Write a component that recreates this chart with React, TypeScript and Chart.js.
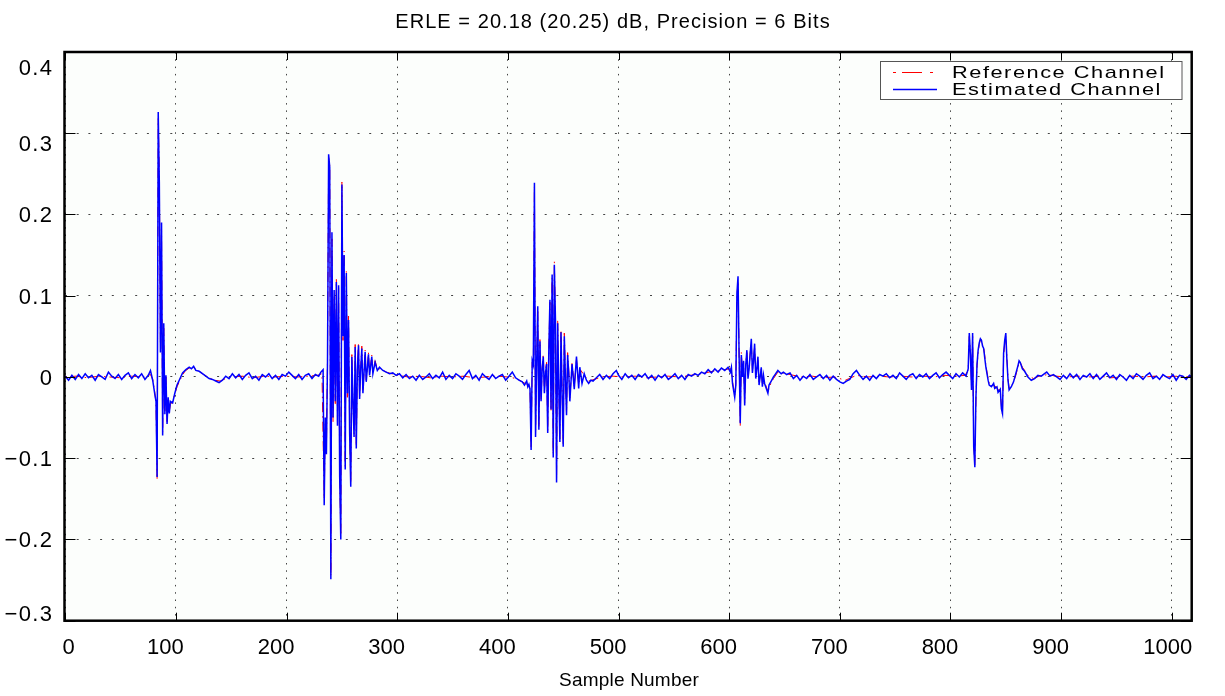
import React, { useEffect, useRef } from "react";
import { Chart, registerables } from "chart.js";
Chart.register(...registerables);

const titleText = "ERLE = 20.18 (20.25) dB, Precision = 6 Bits";
const xAxisTitle = "Sample Number";
const legendLabels = ["Reference Channel", "Estimated Channel"];
const xTickValues = [0, 100, 200, 300, 400, 500, 600, 700, 800, 900, 1000];
const xTickLabels = ["0", "100", "200", "300", "400", "500", "600", "700", "800", "900", "1000"];
const yTickValues = [-0.3, -0.2, -0.1, 0, 0.1, 0.2, 0.3, 0.4];
const yTickLabels = ["\u22120.3", "\u22120.2", "\u22120.1", "0", "0.1", "0.2", "0.3", "0.4"];

const referenceChannel: [number, number][] = [
  [0, 0.0], [10, 0.001], [20, -0.001], [30, 0.001], [40, 0.0], [50, -0.001], [60, 0.001], [70, 0.0], [77, 0.003],
  [79, -0.003], [81, -0.02], [82, -0.032], [83, -0.126], [84, 0.318], [85, 0.252], [86, 0.04], [87, 0.18], [88, -0.068],
  [89, 0.06], [90, -0.042], [91, 0.0], [92, -0.055], [93, -0.03], [94, -0.042], [95, -0.034], [97, -0.03], [99, -0.021],
  [101, -0.012], [104, -0.003], [108, 0.007], [112, 0.011], [116, 0.012], [120, 0.008], [125, 0.003], [130, -0.001],
  [135, -0.004], [140, -0.005], [145, -0.002], [150, 0.0], [160, 0.001], [170, -0.001], [180, 0.001], [190, 0.0],
  [200, 0.001], [210, 0.0], [220, 0.001], [228, 0.002], [232, 0.004],
  [234, -0.15], [235, -0.055], [236, -0.09], [237, 0.025], [238, 0.27], [239, 0.26], [240, -0.245], [241, 0.17],
  [242, -0.055], [243, 0.1], [244, -0.035], [245, 0.12], [246, -0.055], [247, 0.11], [248, -0.12], [249, -0.195],
  [250, 0.24], [251, 0.045], [252, 0.155], [253, -0.11], [254, 0.13], [255, -0.025], [256, 0.075], [257, -0.065],
  [258, -0.13], [259, 0.03], [260, -0.035], [261, -0.07], [262, 0.04], [263, -0.085], [264, 0.012], [265, 0.042],
  [266, -0.025], [267, 0.012], [268, 0.038], [269, -0.018], [270, 0.007], [271, 0.033], [272, -0.004], [274, 0.03],
  [275, 0.004], [277, 0.027], [278, 0.006], [280, 0.02], [282, 0.01], [285, 0.01], [290, 0.006], [295, 0.004],
  [300, 0.002], [310, 0.0], [320, 0.001], [330, -0.001], [340, 0.001], [350, 0.0], [360, 0.001], [370, -0.001],
  [380, 0.0], [390, 0.001], [400, 0.0], [408, -0.002], [413, -0.006], [417, -0.009], [420, -0.014],
  [421, -0.088], [422, 0.018], [423, 0.012], [424, 0.235], [425, -0.07], [426, 0.018], [427, 0.083], [428, -0.062],
  [429, 0.046], [430, -0.028], [431, 0.012], [432, 0.028], [433, -0.018], [434, 0.008], [435, 0.018], [436, -0.066],
  [437, 0.035], [438, 0.092], [439, -0.042], [440, 0.122], [441, -0.095], [442, 0.142], [443, 0.066], [444, -0.125],
  [445, 0.07], [446, -0.012], [447, -0.076], [448, 0.058], [449, -0.018], [450, -0.082], [451, 0.054], [452, 0.004],
  [453, -0.044], [454, 0.03], [455, 0.008], [456, -0.027], [458, 0.018], [460, -0.012], [462, 0.022], [464, -0.01],
  [466, 0.008], [469, 0.002], [473, -0.005], [478, -0.003], [485, 0.0], [495, 0.001], [505, 0.0], [515, 0.001],
  [525, -0.001], [535, 0.0], [545, 0.001], [555, 0.0], [565, 0.002], [575, 0.004], [585, 0.007], [595, 0.009],
  [601, 0.01], [602, 0.01], [603, -0.006], [605, -0.022], [606, -0.008], [607, 0.098], [608, 0.118], [609, 0.026],
  [610, -0.06], [611, 0.03], [612, 0.004], [613, 0.018], [614, -0.032], [615, 0.018], [616, 0.03], [617, 0.002],
  [618, 0.012], [619, 0.03], [620, 0.042], [621, 0.008], [622, 0.022], [623, 0.038], [624, 0.002], [625, 0.012],
  [626, 0.022], [627, -0.006], [628, 0.002], [629, 0.01], [630, -0.01], [632, -0.006], [634, -0.014], [635, -0.018],
  [637, -0.01], [640, -0.002], [644, 0.006], [648, 0.005], [655, 0.003], [665, 0.0], [675, 0.001], [685, -0.001],
  [695, 0.0], [705, -0.004], [715, 0.002], [725, 0.0], [735, 0.001], [745, 0.0], [755, 0.001], [765, 0.0],
  [775, 0.001], [785, 0.0], [795, 0.002], [805, 0.001], [813, 0.002],
  [816, 0.008], [817, 0.05], [818, 0.032], [819, -0.012], [820, 0.05], [821, -0.082], [822, -0.108], [823, -0.028],
  [824, 0.014], [825, 0.03], [826, 0.04], [827, 0.046], [828, 0.046], [829, 0.04], [830, 0.036], [831, 0.026],
  [832, 0.014], [833, 0.006], [834, -0.002], [835, -0.008], [837, -0.011], [839, -0.01], [841, -0.012], [843, -0.016],
  [845, -0.016], [846, -0.036], [847, -0.046], [848, 0.024], [849, 0.042], [850, 0.05], [851, 0.024], [852, -0.002],
  [853, -0.014], [855, -0.012], [857, -0.006], [859, 0.002], [861, 0.012], [862, 0.018], [863, 0.018], [865, 0.012],
  [867, 0.008], [870, 0.002], [875, -0.002], [880, 0.001], [888, 0.003], [895, 0.001], [905, 0.0], [915, 0.001],
  [925, 0.0], [935, 0.001], [945, -0.001], [955, 0.0], [965, 0.001], [975, 0.0], [985, 0.001], [995, 0.0],
  [1005, 0.001], [1018, 0.0],
];

const estimatedChannel: [number, number][] = [
  [0, 0.001], [3, -0.004], [6, 0.002], [9, -0.003], [12, 0.003], [15, -0.002], [18, 0.004], [21, -0.001], [24, 0.002],
  [27, -0.004], [30, 0.003], [33, 0.0], [36, -0.003], [39, 0.006], [42, 0.001], [45, -0.002], [48, 0.003], [51, -0.003],
  [54, 0.002], [57, 0.005], [60, -0.002], [63, 0.003], [66, -0.001], [69, 0.004], [72, -0.003], [75, 0.002], [77, 0.008],
  [79, -0.004], [81, -0.022], [82, -0.03], [83, -0.123], [84, 0.326], [85, 0.24], [86, 0.03], [87, 0.19], [88, -0.072],
  [89, 0.066], [90, -0.046], [91, 0.002], [92, -0.058], [93, -0.025], [94, -0.045], [95, -0.03], [97, -0.032],
  [99, -0.02], [101, -0.01], [103, -0.004], [106, 0.005], [109, 0.009], [112, 0.012], [114, 0.01], [116, 0.013],
  [118, 0.008], [121, 0.007], [124, 0.004], [127, 0.001], [130, -0.002], [133, -0.003], [136, -0.005], [139, -0.007],
  [142, -0.004], [145, 0.001], [148, -0.002], [151, 0.004], [154, -0.001], [157, 0.003], [160, -0.003], [163, 0.002],
  [166, 0.005], [169, -0.002], [172, 0.001], [175, -0.004], [178, 0.003], [181, 0.0], [184, 0.004], [187, -0.002],
  [190, 0.002], [193, -0.003], [196, 0.003], [199, 0.001], [202, 0.006], [205, 0.002], [208, -0.002], [211, 0.003],
  [214, -0.003], [217, 0.002], [220, 0.004], [223, -0.002], [226, 0.003], [229, 0.001], [231, 0.006], [233, 0.009],
  [234, -0.158], [235, -0.05], [236, -0.095], [237, 0.02], [238, 0.274], [239, 0.258], [240, -0.249], [241, 0.178],
  [242, -0.05], [243, 0.107], [244, -0.03], [245, 0.117], [246, -0.06], [247, 0.113], [248, -0.123], [249, -0.2],
  [250, 0.237], [251, 0.05], [252, 0.15], [253, -0.114], [254, 0.128], [255, -0.02], [256, 0.07], [257, -0.07],
  [258, -0.135], [259, 0.025], [260, -0.03], [261, -0.074], [262, 0.037], [263, -0.088], [264, 0.01], [265, 0.039],
  [266, -0.027], [267, 0.01], [268, 0.035], [269, -0.02], [270, 0.005], [271, 0.031], [272, -0.006], [274, 0.028],
  [275, 0.002], [277, 0.025], [278, 0.004], [280, 0.018], [282, 0.008], [284, 0.012], [287, 0.008], [290, 0.006],
  [293, 0.004], [296, 0.005], [299, 0.002], [302, 0.004], [305, -0.001], [308, 0.003], [311, -0.002], [314, 0.001],
  [317, -0.004], [320, 0.002], [323, -0.003], [326, 0.0], [329, 0.004], [332, -0.002], [335, 0.002], [338, -0.001],
  [341, 0.006], [344, -0.003], [347, 0.002], [350, -0.002], [353, 0.004], [356, 0.001], [359, -0.003], [362, 0.003],
  [365, 0.008], [368, -0.002], [371, 0.002], [374, -0.004], [377, 0.004], [380, 0.0], [383, -0.003], [386, 0.003],
  [389, -0.002], [392, 0.001], [395, 0.003], [398, -0.004], [401, 0.001], [404, 0.006], [407, -0.001], [410, -0.004],
  [413, -0.006], [415, -0.01], [417, -0.005], [418, -0.012], [419, -0.009], [420, -0.015],
  [421, -0.09], [422, 0.02], [423, 0.015], [424, 0.239], [425, -0.074], [426, 0.016], [427, 0.087], [428, -0.065],
  [429, 0.044], [430, -0.03], [431, 0.01], [432, 0.025], [433, -0.02], [434, 0.005], [435, 0.016], [436, -0.069],
  [437, 0.033], [438, 0.095], [439, -0.04], [440, 0.126], [441, -0.099], [442, 0.138], [443, 0.07], [444, -0.13],
  [445, 0.066], [446, -0.01], [447, -0.08], [448, 0.055], [449, -0.02], [450, -0.086], [451, 0.05], [452, 0.0],
  [453, -0.047], [454, 0.027], [455, 0.005], [456, -0.03], [458, 0.016], [460, -0.015], [462, 0.025], [464, -0.014],
  [465, 0.012], [467, -0.008], [469, 0.004], [471, -0.004], [473, -0.008], [475, -0.004], [477, -0.005],
  [480, -0.001], [483, 0.003], [486, -0.003], [489, 0.002], [492, -0.002], [495, 0.004], [498, 0.008], [500, 0.002],
  [503, -0.003], [506, 0.004], [509, -0.001], [512, 0.002], [515, -0.003], [518, 0.003], [521, 0.0], [524, 0.004],
  [527, -0.002], [530, 0.002], [533, -0.004], [536, 0.002], [539, -0.001], [542, 0.003], [545, -0.003], [548, 0.0],
  [551, 0.004], [554, -0.002], [557, 0.002], [560, -0.003], [563, 0.003], [566, 0.001], [569, 0.004], [572, 0.002],
  [575, 0.006], [578, 0.004], [581, 0.009], [584, 0.005], [587, 0.01], [590, 0.006], [593, 0.011], [596, 0.008],
  [599, 0.012], [601, 0.006], [602, 0.012], [603, -0.008], [605, -0.025], [606, -0.01], [607, 0.103], [608, 0.124],
  [609, 0.023], [610, -0.057], [611, 0.027], [612, 0.0], [613, 0.02], [614, -0.035], [615, 0.015], [616, 0.033],
  [617, -0.002], [618, 0.01], [619, 0.029], [620, 0.047], [621, 0.005], [622, 0.02], [623, 0.041], [624, -0.002],
  [625, 0.01], [626, 0.025], [627, -0.01], [628, 0.0], [629, 0.012], [630, -0.012], [631, 0.002], [632, -0.008],
  [634, -0.016], [635, -0.02], [636, -0.01], [638, -0.005], [640, 0.0], [641, 0.002], [644, 0.008], [647, 0.004],
  [649, 0.006], [652, 0.003], [655, 0.005], [658, -0.002], [661, 0.002], [664, -0.004], [667, 0.001], [670, -0.002],
  [673, 0.003], [676, -0.003], [679, 0.0], [682, 0.003], [685, -0.002], [688, 0.002], [691, -0.004], [694, 0.001],
  [697, -0.003], [700, -0.006], [703, -0.008], [706, -0.005], [709, -0.003], [712, 0.004], [715, 0.008], [718, 0.002],
  [721, -0.003], [724, 0.001], [727, -0.004], [730, 0.002], [733, -0.002], [736, 0.003], [739, 0.001], [742, 0.004],
  [745, -0.001], [748, 0.002], [751, -0.002], [754, 0.005], [757, 0.001], [760, -0.003], [763, 0.002], [766, 0.004],
  [769, -0.002], [772, 0.003], [775, 0.0], [778, 0.004], [781, -0.002], [784, 0.002], [787, 0.005], [790, -0.001],
  [793, 0.003], [796, 0.006], [799, 0.002], [802, -0.002], [805, 0.004], [808, 0.0], [811, 0.005], [814, 0.001],
  [816, 0.01], [817, 0.054], [818, 0.029], [819, -0.016], [820, 0.054], [821, -0.086], [822, -0.111], [823, -0.025],
  [824, 0.016], [825, 0.033], [826, 0.042], [827, 0.047], [828, 0.045], [829, 0.038], [830, 0.035], [831, 0.023],
  [832, 0.012], [833, 0.004], [834, -0.004], [835, -0.01], [837, -0.012], [839, -0.008], [840, -0.014], [842, -0.012],
  [843, -0.019], [845, -0.015], [846, -0.039], [847, -0.045], [848, 0.029], [849, 0.045], [850, 0.054], [851, 0.021],
  [852, -0.004], [853, -0.016], [855, -0.012], [857, -0.006], [859, 0.004], [861, 0.014], [862, 0.02], [863, 0.018],
  [865, 0.01], [867, 0.007], [870, 0.0], [873, -0.004], [876, -0.002], [879, 0.002], [882, 0.001], [885, 0.004],
  [887, 0.006], [890, 0.001], [893, 0.003], [896, 0.0], [899, -0.003], [902, 0.002], [905, -0.002], [908, 0.004],
  [911, -0.001], [914, 0.003], [917, -0.003], [920, 0.002], [923, 0.0], [926, 0.004], [929, -0.002], [932, 0.003],
  [935, -0.003], [938, 0.001], [941, 0.005], [944, -0.001], [947, 0.002], [950, -0.003], [953, 0.003], [956, 0.0],
  [959, -0.004], [962, 0.002], [965, -0.002], [968, 0.004], [971, 0.001], [974, -0.003], [977, 0.002], [980, 0.005],
  [983, -0.002], [986, 0.001], [989, -0.003], [992, 0.003], [995, 0.0], [998, -0.002], [1001, 0.003], [1004, -0.004],
  [1007, 0.002], [1010, 0.001], [1013, -0.003], [1016, 0.002], [1018, 0.0],
];

const FONT = '"Liberation Sans", Arial, Helvetica, sans-serif';

function drawText(ctx: CanvasRenderingContext2D, text: string, x: number, y: number, font: string, align: CanvasTextAlign, spacing: number, sx = 1) {
  ctx.save();
  ctx.translate(x, y);
  ctx.scale(sx, 1);
  ctx.font = font;
  (ctx as any).letterSpacing = spacing + "px";
  ctx.textAlign = align;
  ctx.textBaseline = "alphabetic";
  ctx.fillStyle = "#000";
  ctx.fillText(text, 0, 0);
  ctx.restore();
}

const decorPlugin = {
  id: "decor",
  beforeDraw(chart: any) {
    const { ctx, chartArea: a } = chart;
    ctx.save();
    ctx.fillStyle = "#ffffff";
    ctx.fillRect(0, 0, chart.width, chart.height);
    ctx.fillStyle = "#fcfefc";
    ctx.fillRect(a.left, a.top, a.right - a.left, a.bottom - a.top);
    ctx.restore();
  },
  afterDraw(chart: any) {
    const { ctx, chartArea: a, scales } = chart;
    const xs = scales.x;
    const ys = scales.y;
    ctx.save();
    ctx.strokeStyle = "#000";
    ctx.lineWidth = 1;
    ctx.beginPath();
    xTickValues.forEach((v) => {
      const p = Math.round(xs.getPixelForValue(v)) + 0.5;
      ctx.moveTo(p, a.bottom);
      ctx.lineTo(p, a.bottom - 8);
      ctx.moveTo(p, a.top);
      ctx.lineTo(p, a.top + 8);
    });
    yTickValues.forEach((v) => {
      const p = Math.round(ys.getPixelForValue(v)) + 0.5;
      ctx.moveTo(a.left, p);
      ctx.lineTo(a.left + 11, p);
      ctx.moveTo(a.right, p);
      ctx.lineTo(a.right - 11, p);
    });
    ctx.stroke();
    ctx.lineWidth = 2.5;
    ctx.strokeRect(a.left, a.top, a.right - a.left, a.bottom - a.top);
    ctx.restore();

    const yShift: Record<string, number> = { "0.4": 15, "0.3": 10, "\u22120.3": -8 };
    yTickValues.forEach((v, i) => {
      const lab = yTickLabels[i];
      const cy = ys.getPixelForValue(v) + (yShift[lab] || 0);
      drawText(ctx, lab, 53.5, cy + 7.8, "22px " + FONT, "right", 1.4);
    });
    xTickValues.forEach((v, i) => {
      const lab = xTickLabels[i];
      const px = xs.getPixelForValue(v);
      const shift = lab === "0" ? 3.4 : lab === "1000" ? -4 : -10.5;
      drawText(ctx, lab, px + shift, 653.5, "22px " + FONT, "center", 0);
    });
    drawText(ctx, titleText, 613, 27.7, "20px " + FONT, "center", 1.05);
    drawText(ctx, xAxisTitle, 629, 686, "19px " + FONT, "center", 0.2);

    ctx.save();
    ctx.fillStyle = "#ffffff";
    ctx.fillRect(880.5, 61.5, 301.5, 38);
    ctx.strokeStyle = "#555";
    ctx.lineWidth = 1;
    ctx.strokeRect(880.5, 61.5, 301.5, 38);
    ctx.strokeStyle = "#ff0000";
    ctx.lineWidth = 1.2;
    ctx.beginPath();
    ctx.moveTo(893, 72.5); ctx.lineTo(896, 72.5);
    ctx.moveTo(902, 72.5); ctx.lineTo(922, 72.5);
    ctx.moveTo(930, 72.5); ctx.lineTo(933, 72.5);
    ctx.stroke();
    ctx.strokeStyle = "#0000ff";
    ctx.lineWidth = 1.5;
    ctx.beginPath();
    ctx.moveTo(893, 89.5); ctx.lineTo(937, 89.5);
    ctx.stroke();
    ctx.restore();
    drawText(ctx, legendLabels[0], 952, 78, "17px " + FONT, "left", 1.2, 1.28);
    drawText(ctx, legendLabels[1], 952, 95, "17px " + FONT, "left", 1.2, 1.28);
  },
};

export default function App() {
  const ref = useRef<HTMLCanvasElement | null>(null);
  useEffect(() => {
    document.body.style.margin = "0";
    document.body.style.background = "#ffffff";
    const canvas = ref.current;
    if (!canvas) return;
    const chart = new Chart(canvas, {
      type: "line",
      data: {
        datasets: [
          {
            label: legendLabels[0],
            data: referenceChannel.map(([x, y]) => ({ x, y })),
            borderColor: "#ff0000",
            borderWidth: 1,
            borderDash: [1.5, 4, 10, 4],
            pointRadius: 0,
            tension: 0,
            fill: false,
            order: 1,
          },
          {
            label: legendLabels[1],
            data: estimatedChannel.map(([x, y]) => ({ x, y })),
            borderColor: "#0000ff",
            borderWidth: 1.5,
            pointRadius: 0,
            tension: 0,
            fill: false,
            order: 0,
          },
        ],
      },
      options: {
        responsive: false,
        animation: false,
        events: [],
        layout: { padding: { left: 64.5, top: 52, right: 33.3, bottom: 75.3 } },
        scales: {
          x: {
            type: "linear",
            min: -0.7,
            max: 1018,
            ticks: { display: false, stepSize: 100, includeBounds: false },
            grid: { color: "#444", lineWidth: 1, drawTicks: false },
            border: { display: false, dash: [1.5, 5.8] },
            afterFit: (s: any) => { s.height = 0; },
          },
          y: {
            type: "linear",
            min: -0.3,
            max: 0.4,
            ticks: { display: false, stepSize: 0.1, includeBounds: false },
            grid: { color: "#444", lineWidth: 1, drawTicks: false },
            border: { display: false, dash: [2, 9.7] },
            afterFit: (s: any) => { s.width = 0; },
          },
        },
        plugins: {
          legend: { display: false },
          title: { display: false },
          tooltip: { enabled: false },
        },
      },
      plugins: [decorPlugin],
    } as any);
    return () => chart.destroy();
  }, []);
  return (
    <div style={{ width: 1225, height: 696 }}>
      <canvas ref={ref} width={1225} height={696} style={{ display: "block", width: 1225, height: 696 }} />
    </div>
  );
}
